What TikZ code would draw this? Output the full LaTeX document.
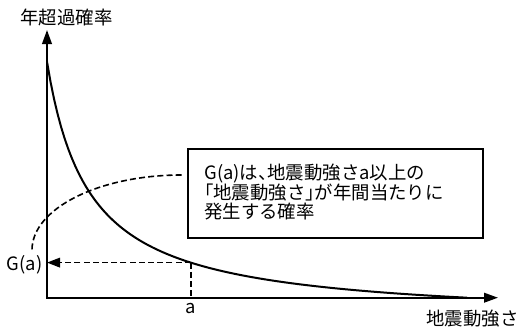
\documentclass[tikz,border=0pt]{standalone}
\usepackage{fontspec}
\setmainfont{Noto Sans CJK JP}
\newfontfamily\notefont[RawFeature=+halt]{Noto Sans CJK JP}
\usetikzlibrary{arrows.meta}

\tikzset{
  axisline/.style={line width=1pt, {Triangle[length=7pt,width=4.8pt]}-{Triangle[length=7pt,width=4.8pt]}},
  guide/.style={line width=0.8pt, dash pattern=on 3pt off 1.6pt},
  txt/.style={font=\fontsize{9.2pt}{10pt}\selectfont, inner sep=0pt},
  noteline/.style={font=\notefont\fontsize{9.2pt}{10pt}\selectfont, inner sep=0pt, anchor=base west},
}

\begin{document}
\begin{tikzpicture}[x=0.5pt, y=-0.5pt]
      \useasboundingbox (0,0) rectangle (521,332);
      \coordinate (O) at (47,297.7);
      \coordinate (ytop) at (47,30);
      \coordinate (xend) at (498,297.7);
      \draw[axisline] (ytop) -- (O) -- (xend);
      % G(a) curve
      \draw[line width=1pt] plot[domain=0:420, samples=120] ({47+\x}, {297.7-(10903/(\x+42)-23.6)});
      \coordinate (P) at (190.7,262.6);
      \coordinate (Gy) at (47,262.6);
      \coordinate (ax) at (190.7,297.7);
      \draw[guide, -{Triangle[length=6.5pt,width=4.8pt]}] (P) -- (Gy);
      \draw[guide] (P) -- (ax);
      \node (Ga) [txt] at (24.5,265) {G(a)};
      \node (a) [txt] at (190.7,308) {a};
      \node (ylab) [txt] at (66.5,17) {年超過確率};
      \node (xlab) [txt] at (472.5,319) {地震動強さ};
      % note box
      \node (frame) [draw, line width=0.8pt, minimum width=147.5pt, minimum height=44.5pt] at (335.5,193.5) {};
      \node (note1) [noteline] at (204,179.5) {G(a)は、地震動強さa以上の};
      \node (note2) [noteline] at (204,199) {「地震動強さ」が年間当たりに};
      \node (note3) [noteline] at (204,218.5) {発生する確率};
      \coordinate (noteend) at (181.7,175);
      \coordinate (gaend) at (32,250);
      \draw[guide] (noteend) .. controls (99,175) and (32,208.6) .. (gaend);
\end{tikzpicture}
\end{document}
